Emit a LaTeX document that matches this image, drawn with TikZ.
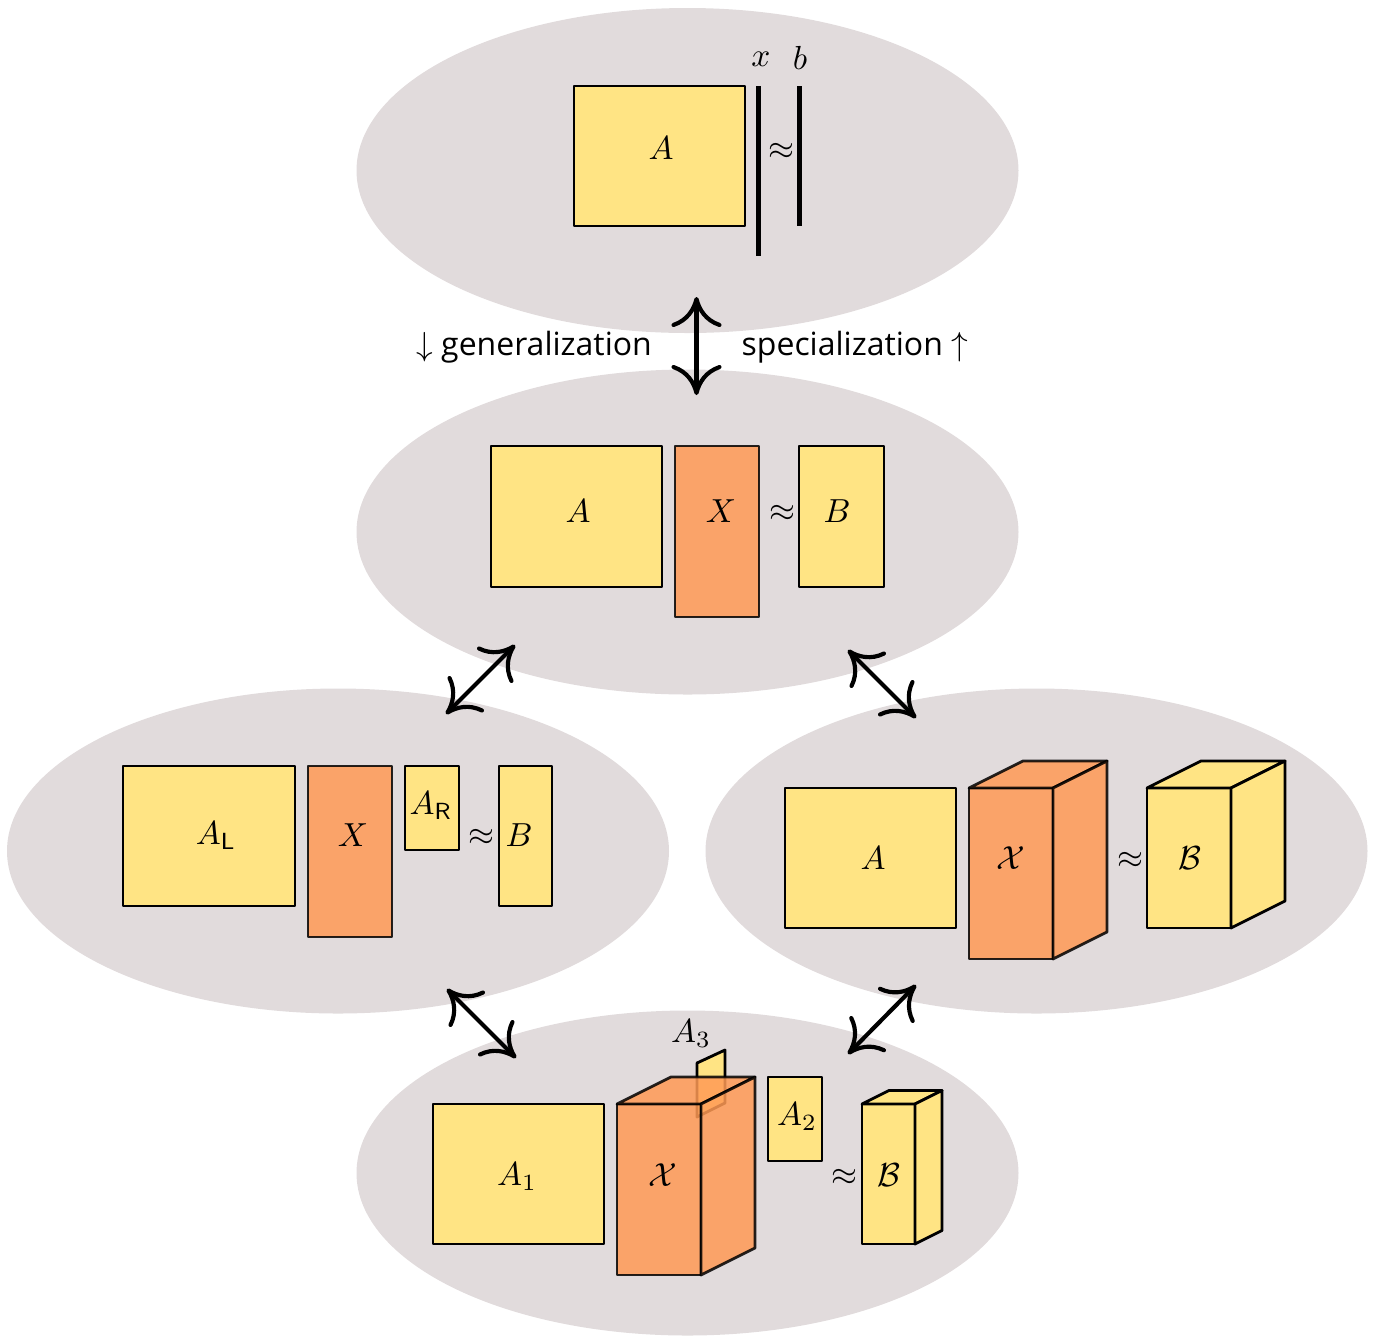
\documentclass[tikz,border=0pt]{standalone}
\usepackage{amsmath, amssymb}
\usepackage{fontspec}
\newfontfamily\wordfont{Open Sans}
\usepackage{tikz}
\usetikzlibrary{arrows.meta, shapes.geometric}
\definecolor{cloudgray}{HTML}{E1DBDC}
\definecolor{boxyellow}{HTML}{FFE484}
\definecolor{boxorange}{HTML}{FF9A55}
\tikzset{
  cloud/.style = {ellipse, fill=cloudgray, inner sep=0pt,
    minimum width=198.6pt, minimum height=97.5pt},
  ybox/.style = {draw=black, fill=boxyellow, line width=0.85pt, line join=round},
  obox/.style = {draw=black, fill=boxorange, line width=0.85pt, line join=round, opacity=.85},
  bar/.style = {draw=black, line width=1.5pt},
  link/.style = {line width=1.25pt, line cap=round,
    {Computer Modern Rightarrow[length=9pt,width=15pt,line width=1.25pt]}-{Computer Modern Rightarrow[length=9pt,width=15pt,line width=1.25pt]}},
  word/.style = {font=\wordfont\fontsize{9.6}{12}\selectfont, inner sep=0pt}
}
\newcommand{\prism}[6]{
  \path[#1] (#2,#3) rectangle ++(#4,#5);
  \path[#1] (#2,#3) -- ++(#6,-#6/2) -- ++(#4,0) -- ++(-#6,#6/2) -- cycle;
  \path[#1] (#2+#4,#3) -- ++(#6,-#6/2) -- ++(0,#5) -- ++(-#6,#6/2) -- cycle;
}
\begin{document}
\begin{tikzpicture}[x=0.3pt,y=-0.3pt]
\useasboundingbox (0,0) rectangle (1377,1335);
\node [cloud] (top) at (687.5,170.5) {};
\node [cloud] (mid) at (687.5,532) {};
\node [cloud] (left) at (338,851) {};
\node [cloud] (right) at (1036.5,851) {};
\node [cloud] (bottom) at (687.5,1173) {};

\path[ybox] (574,86) rectangle (745,226);
\draw[bar] (758.5,86) -- (758.5,256);
\draw[bar] (799,86) -- (799,226);
\node (topA) at (661,148) {$A$};
\node (topx) at (761,59) {$x$};
\node (topb) at (800,58) {$b$};
\node (topeq) at (781,151) {$\approx$};

\path[ybox] (491,446) rectangle (662,587);
\path[obox] (675,446) rectangle (759,617);
\path[ybox] (799,446) rectangle (884,587);
\node (midA) at (578,511) {$A$};
\node (midX) at (721,511) {$X$};
\node (midB) at (837,511) {$B$};
\node (mideq) at (782,513) {$\approx$};

\path[ybox] (123,766) rectangle (295,906);
\path[obox] (308,766) rectangle (392,937);
\path[ybox] (405,766) rectangle (459,850);
\path[ybox] (499,766) rectangle (552,906);
\node (leftAL) at (216,836) {$A_{\mathsf{L}}$};
\node (leftX) at (353,835) {$X$};
\node (leftAR) at (431,806) {$A_{\mathsf{R}}$};
\node (lefteq) at (481,837) {$\approx$};
\node (leftB) at (519,835) {$B$};

\path[ybox] (785,788) rectangle (956,928);
\prism{obox}{969}{788}{84}{171}{54}
\prism{ybox}{1147}{788}{84}{140}{54}
\node (rightA) at (873,858) {$A$};
\node (rightX) at (1011,858) {$\mathcal{X}$};
\node (righteq) at (1130,860) {$\approx$};
\node (rightB) at (1190,858) {$\mathcal{B}$};

\path[ybox] (433,1104) rectangle (604,1244);
\path[ybox] (697,1063) -- (725,1050) -- (725,1103) -- (697,1117) -- cycle;
\prism{obox}{617}{1104}{84}{171}{54}
\path[ybox] (768,1077) rectangle (822,1161);
\prism{ybox}{862}{1104}{53}{140}{27}
\node (botA1) at (517,1177) {$A_1$};
\node (botX) at (663,1175) {$\mathcal{X}$};
\node (botA3) at (691,1034) {$A_3$};
\node (botA2) at (797,1117) {$A_2$};
\node (boteq) at (844,1177) {$\approx$};
\node (botB) at (889,1175) {$\mathcal{B}$};

\coordinate (topEnd) at (696.5,297);
\coordinate (midEnd) at (696.5,395);
\coordinate (midSW) at (515,645);
\coordinate (leftNE) at (446,714);
\coordinate (midSE) at (848,650);
\coordinate (rightNW) at (916,718);
\coordinate (leftS) at (447,989);
\coordinate (botNW) at (516,1058);
\coordinate (rightS) at (916,985);
\coordinate (botNE) at (848,1054);
\draw[link] (topEnd) -- (midEnd);
\draw[link] (midSW) -- (leftNE);
\draw[link] (midSE) -- (rightNW);
\draw[link] (leftS) -- (botNW);
\draw[link] (rightS) -- (botNE);

\node [word, anchor=east] (gen) at (652.5,347) {$\downarrow$ generalization};
\node [word, anchor=west] (spec) at (741,347) {specialization $\uparrow$};
\end{tikzpicture}
\end{document}
